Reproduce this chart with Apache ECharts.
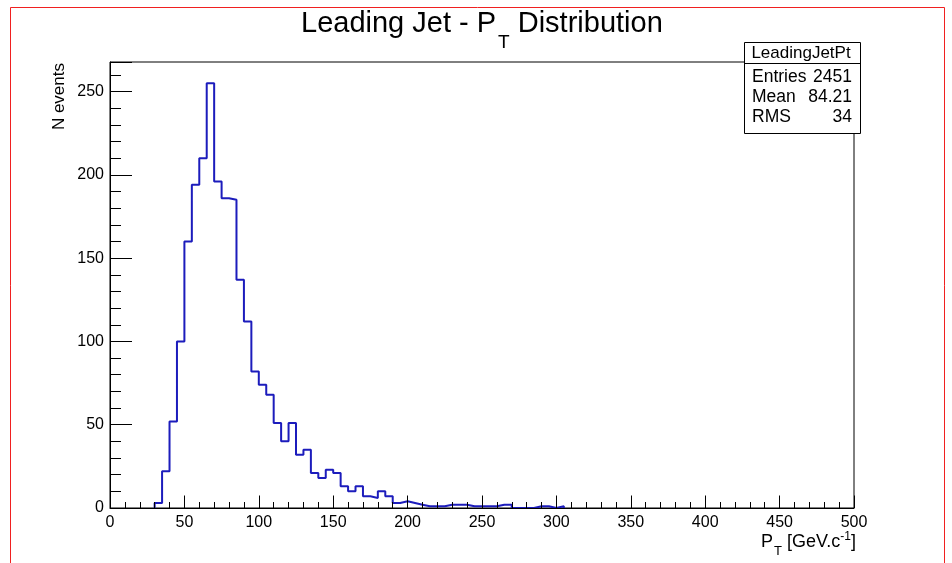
<!DOCTYPE html>
<html><head><meta charset="utf-8">
<script src="https://cdn.jsdelivr.net/npm/echarts@6/dist/echarts.min.js"></script>
<style>html,body{margin:0;padding:0;background:#fff}#c{width:952px;height:563px}</style>
</head><body><div id="c"></div>
<script>
// ---- data ----
const histName = 'LeadingJetPt';
const binWidth = 5;
const binLowEdges = [30,35,40,45,50,55,60,65,70,75,80,85,90,95,100,105,110,115,120,125,
  130,135,140,145,150,155,160,165,170,175,180,185,190,195,200,205,210,215,220,225,
  230,235,240,245,250,255,260,265,270,275,280,285,290,295,300];
const binCounts = [3,22,52,100,160,194,210,255,196,186,185,137,112,82,74,68,51,40,51,32,
  35,21,18,23,21,13,10,13,7,6,10,7,3,4,3,2,1,1,1,2,
  2,2,1,1,1,1,2,2,0,0,0,1,1,0,1];
const xRange = [0, 500];
const yRange = [0, 267.75];
const xMajorStep = 50;
const yMajorStep = 50;
const yMinorStep = 10;
const statLabels = ['Entries', 'Mean', 'RMS'];
const statValues = ['2451', '84.21', '34'];
const titleParts = ['Leading Jet - P', 'T', ' Distribution'];
const xTitleParts = ['P', 'T', ' [GeV.c', '-1', ']'];
const yTitle = 'N events';

// ---- build ----
const FONT = "'Liberation Sans', Arial, Helvetica, sans-serif";
const LINE_COLOR = '#1c1cbc';
const pts = [[binLowEdges[0], 0]];
binLowEdges.forEach((e, i) => pts.push([e, binCounts[i]]));
pts.push([binLowEdges[binLowEdges.length - 1] + binWidth, 0]);

const chart = echarts.init(document.getElementById('c'), null, {renderer: 'canvas'});

const statY = [77.5, 97.5, 117.5];
const statGraphics = [
  {type: 'rect', z: 100, shape: {x: 744.5, y: 42.5, width: 116, height: 91},
   style: {fill: '#fff', stroke: '#000', lineWidth: 1}},
  {type: 'line', z: 101, shape: {x1: 744.5, y1: 63.5, x2: 860.5, y2: 63.5},
   style: {stroke: '#000', lineWidth: 1}},
  {type: 'text', z: 102, x: 801, y: 53,
   style: {text: histName, font: '17px ' + FONT, fill: '#000', align: 'center', verticalAlign: 'middle', textAlign: 'center', textVerticalAlign: 'middle'}}
];
statLabels.forEach((l, i) => {
  statGraphics.push({type: 'text', z: 102, x: 752, y: statY[i],
    style: {text: l, font: '17.5px ' + FONT, fill: '#000', align: 'left', verticalAlign: 'middle', textAlign: 'left', textVerticalAlign: 'middle'}});
  statGraphics.push({type: 'text', z: 102, x: 852, y: statY[i],
    style: {text: statValues[i], font: '17.5px ' + FONT, fill: '#000', align: 'right', verticalAlign: 'middle', textAlign: 'right', textVerticalAlign: 'middle'}});
});

const option = {
  backgroundColor: '#fff',
  animation: false,
  title: {
    left: 301, top: 9, padding: 0,
    text: '{m|' + titleParts[0] + '}{s|' + titleParts[1] + '}{m|' + titleParts[2] + '}',
    textStyle: {
      fontFamily: FONT, fontWeight: 'normal',
      rich: {
        m: {fontSize: 29, lineHeight: 30, color: '#000', fontFamily: FONT, fontWeight: 'normal', verticalAlign: 'top'},
        s: {fontSize: 19, lineHeight: 19, color: '#000', fontFamily: FONT, fontWeight: 'normal', verticalAlign: 'top', padding: [24.5, 0, 0, 2]}
      }
    }
  },
  grid: {left: 110, right: 98, top: 62, bottom: 55, show: true, borderColor: '#000', borderWidth: 1, backgroundColor: 'transparent'},
  xAxis: {
    type: 'value', min: xRange[0], max: xRange[1], interval: xMajorStep, z: 5,
    axisLine: {show: true, onZero: false, lineStyle: {color: '#000', width: 1}},
    axisTick: {show: true, inside: true, length: 12.5, lineStyle: {color: '#000', width: 1}},
    minorTick: {show: true, splitNumber: 5, length: 6, lineStyle: {color: '#000', width: 1}},
    axisLabel: {show: true, margin: 7, fontSize: 16, color: '#000', fontFamily: FONT},
    splitLine: {show: false}, minorSplitLine: {show: false}
  },
  yAxis: [{
    type: 'value', min: yRange[0], max: yRange[1], interval: yMinorStep, z: 5,
    axisLine: {show: true, lineStyle: {color: '#000', width: 1}},
    axisTick: {show: true, inside: true, length: 11, lineStyle: {color: '#000', width: 1}},
    axisLabel: {show: true, margin: 6, fontSize: 16, color: '#000', fontFamily: FONT, showMaxLabel: false,
      formatter: v => (v % yMajorStep === 0 ? String(v) : '')},
    splitLine: {show: false}
  }, {
    type: 'value', min: yRange[0], max: yRange[1], interval: yMajorStep, z: 5, position: 'left',
    axisLine: {show: false},
    axisTick: {show: true, inside: true, length: 22, lineStyle: {color: '#000', width: 1}},
    axisLabel: {show: false},
    splitLine: {show: false}
  }],
  series: [{
    type: 'line', step: 'end', data: pts, showSymbol: false, symbol: 'none', z: 1,
    lineStyle: {color: LINE_COLOR, width: 2}, yAxisIndex: 0
  }],
  graphic: [
    // red outer canvas frame
    {type: 'polyline', z: 50, shape: {points: [[10.5, 563], [10.5, 7.5], [944.5, 7.5], [944.5, 563]]},
     style: {stroke: '#f02020', lineWidth: 1, fill: null}},
    // y title
    {type: 'text', z: 60, x: 59, y: 63, rotation: Math.PI / 2,
     style: {text: yTitle, font: '17px ' + FONT, fill: '#000', align: 'right', verticalAlign: 'middle', textAlign: 'right', textVerticalAlign: 'middle'}},
    // x title
    {type: 'text', z: 60, x: 856, y: 527,
     style: {
       text: '{m|' + xTitleParts[0] + '}{s|' + xTitleParts[1] + '}{m|' + xTitleParts[2] + '}{p|' + xTitleParts[3] + '}{m|' + xTitleParts[4] + '}',
       align: 'right', verticalAlign: 'top', textAlign: 'right', textVerticalAlign: 'top',
       font: '18px ' + FONT, fill: '#000',
       rich: {
         m: {fontSize: 18, lineHeight: 20, fontFamily: FONT, fill: '#000', color: '#000', verticalAlign: 'top', padding: [6, 0, 0, 0]},
         s: {fontSize: 13, lineHeight: 13, fontFamily: FONT, fill: '#000', color: '#000', verticalAlign: 'top', padding: [17.5, 0, 0, 1]},
         p: {fontSize: 12, lineHeight: 12, fontFamily: FONT, fill: '#000', color: '#000', verticalAlign: 'top', padding: [4, 0, 0, 0]}
       }
     }}
  ].concat(statGraphics)
};
chart.setOption(option);
</script>
</body></html>
